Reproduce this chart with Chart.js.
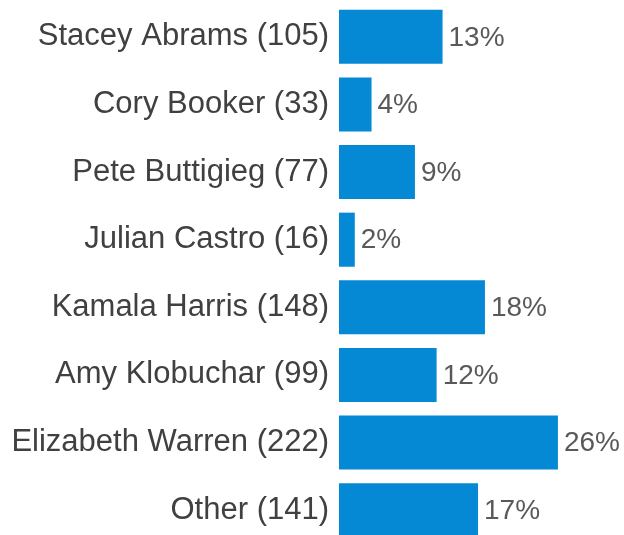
<!DOCTYPE html>
<html>
<head>
<meta charset="utf-8">
<script src="https://cdn.jsdelivr.net/npm/chart.js@4"></script>
<style>
  html, body { margin: 0; padding: 0; background: #fff; overflow: hidden; }
  #wrap { position: relative; width: 624px; height: 544px; }
</style>
</head>
<body>
<div id="wrap"><canvas id="chart"></canvas></div>
<script>
const names = ["Stacey Abrams", "Cory Booker", "Pete Buttigieg", "Julian Castro",
  "Kamala Harris", "Amy Klobuchar", "Elizabeth Warren", "Other"];
const counts = [105, 33, 77, 16, 148, 99, 222, 141];
const percents = [13, 4, 9, 2, 18, 12, 26, 17];

const labels = names.map((n, i) => `${n} (${counts[i]})`);

// draws the "13%" text at the end of each bar
const valueLabels = {
  id: "valueLabels",
  afterDatasetsDraw(chart) {
    const ctx = chart.ctx;
    const meta = chart.getDatasetMeta(0);
    ctx.save();
    ctx.font = "28px 'Liberation Sans', Arial, sans-serif";
    ctx.fillStyle = "#595959";
    ctx.textAlign = "left";
    ctx.textBaseline = "middle";
    meta.data.forEach((bar, i) => {
      ctx.fillText(percents[i] + "%", bar.x + 6, bar.y + 1);
    });
    ctx.restore();
  }
};

new Chart(document.getElementById("chart"), {
  type: "bar",
  data: {
    labels,
    datasets: [{
      data: counts,
      backgroundColor: "#0689d4",
      borderWidth: 0,
      barPercentage: 0.8,
      categoryPercentage: 1
    }]
  },
  options: {
    indexAxis: "y",
    responsive: true,
    maintainAspectRatio: false,
    animation: false,
    layout: { padding: { top: 3, right: 0, bottom: 0, left: 0 } },
    plugins: {
      legend: { display: false },
      tooltip: { enabled: false }
    },
    scales: {
      x: {
        display: false,
        min: 0,
        max: 289
      },
      y: {
        grid: { display: false },
        border: { display: false },
        ticks: {
          padding: 2,
          color: "#404040",
          font: { family: "'Liberation Sans', Arial, sans-serif", size: 31 }
        },
        afterFit(scale) {
          scale.width = 339;
          scale.paddingTop = 0;
          scale.paddingBottom = 0;
        }
      }
    }
  },
  plugins: [valueLabels]
});
</script>
</body>
</html>
